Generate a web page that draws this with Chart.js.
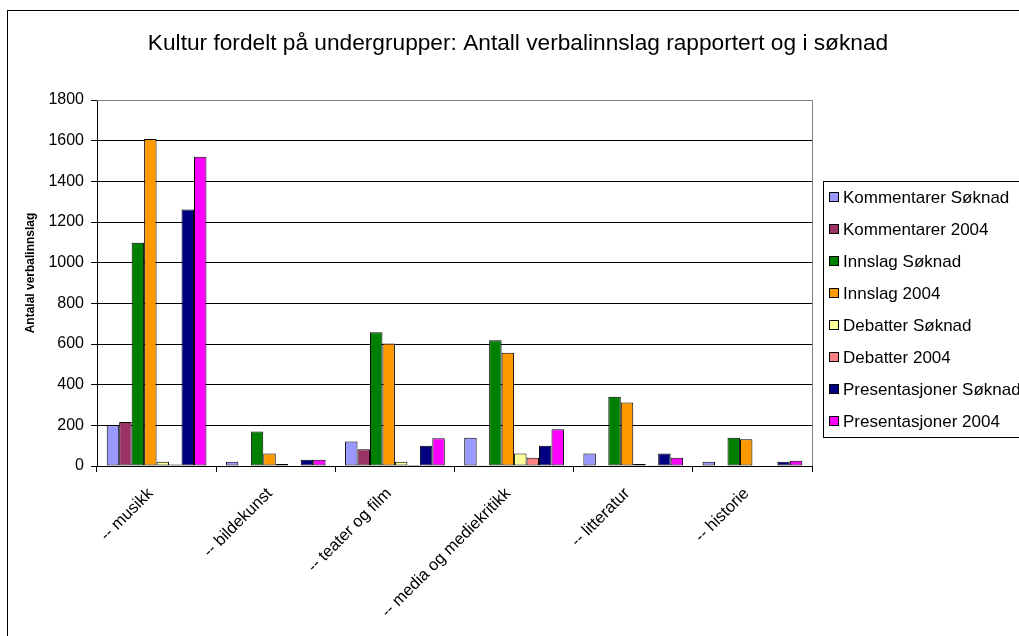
<!DOCTYPE html>
<html>
<head>
<meta charset="utf-8">
<script src="https://cdn.jsdelivr.net/npm/chart.js@4"></script>
<style>
  body { margin: 0; background: #fff; }
  canvas { display: block; }
</style>
</head>
<body>
<canvas id="grafico" width="1019" height="636"></canvas>
<script>
const categorias = ['-- musikk', '-- bildekunst', '-- teater og film', '-- media og mediekritikk', '-- litteratur', '-- historie'];
const kommentarerSoknad = [200, 21, 121, 139, 61, 21];
const kommentarer2004 = [216, 0, 82, 4, 3, 3];
const innslagSoknad = [1098, 170, 658, 618, 340, 139];
const innslag2004 = [1608, 61, 603, 557, 312, 132];
const debatterSoknad = [21, 10, 21, 61, 10, 0];
const debatter2004 = [7, 0, 5, 41, 4, 3];
const presentasjonerSoknad = [1261, 31, 100, 100, 61, 21];
const presentasjoner2004 = [1521, 31, 137, 181, 41, 26];
const yTicks = [0, 200, 400, 600, 800, 1000, 1200, 1400, 1600, 1800];

const tittel = 'Kultur fordelt på undergrupper: Antall verbalinnslag rapportert og i søknad';
const yTittel = 'Antalal verbalinnslag';
const fonte = '"Liberation Sans", Arial, sans-serif';

function serie(label, data, cor) {
    return {
        label: label,
        data: data,
        backgroundColor: cor,
        borderColor: '#000',
        borderWidth: 1,
        borderSkipped: false,
        categoryPercentage: 0.837,
        barPercentage: 1
    };
}

const series = [
    serie('Kommentarer Søknad', kommentarerSoknad, '#9999FF'),
    serie('Kommentarer 2004', kommentarer2004, '#993366'),
    serie('Innslag Søknad', innslagSoknad, '#008000'),
    serie('Innslag 2004', innslag2004, '#FF9900'),
    serie('Debatter Søknad', debatterSoknad, '#FFFF99'),
    serie('Debatter 2004', debatter2004, '#FF8080'),
    serie('Presentasjoner Søknad', presentasjonerSoknad, '#000080'),
    serie('Presentasjoner 2004', presentasjoner2004, '#FF00FF')
];

// fundo, moldura, titulo e legenda desenhados a mao
const extras = {
    id: 'extras',
    beforeDraw(chart) {
        const ctx = chart.ctx;
        ctx.save();
        ctx.fillStyle = '#fff';
        ctx.fillRect(0, 0, chart.width, chart.height);
        ctx.restore();
    },
    afterDraw(chart) {
        const ctx = chart.ctx;
        const area = chart.chartArea;
        ctx.save();

        // moldura externa
        ctx.strokeStyle = '#000';
        ctx.lineWidth = 1;
        ctx.strokeRect(7.5, 10.5, 2000, 2000);

        // borda da area do grafico
        ctx.strokeStyle = '#808080';
        ctx.beginPath();
        ctx.moveTo(area.left, Math.round(area.top) + 0.5);
        ctx.lineTo(Math.round(area.right) + 0.5, Math.round(area.top) + 0.5);
        ctx.lineTo(Math.round(area.right) + 0.5, area.bottom);
        ctx.stroke();

        // titulo
        ctx.fillStyle = '#000';
        ctx.font = '22.7px ' + fonte;
        ctx.textAlign = 'center';
        ctx.textBaseline = 'middle';
        ctx.fillText(tittel, 518, 44);

        // titulo do eixo y
        ctx.save();
        ctx.translate(31, 273);
        ctx.rotate(-Math.PI / 2);
        ctx.font = 'bold 12px ' + fonte;
        ctx.fillText(yTittel, 0, 0);
        ctx.restore();

        // legenda
        ctx.strokeStyle = '#000';
        ctx.strokeRect(823.5, 181.5, 300, 256);
        ctx.font = '17px ' + fonte;
        ctx.textAlign = 'left';
        series.forEach((s, i) => {
            const y = 197 + i * 32;
            ctx.fillStyle = s.backgroundColor;
            ctx.fillRect(829.5, y - 4.5, 9, 9);
            ctx.strokeRect(829.5, y - 4.5, 9, 9);
            ctx.fillStyle = '#000';
            ctx.fillText(s.label, 843, y + 1);
        });
        ctx.restore();
    }
};

const grafico = new Chart(document.getElementById('grafico').getContext('2d'), {
    type: 'bar',
    data: {
        labels: categorias,
        datasets: series
    },
    options: {
        responsive: false,
        animation: false,
        layout: {
            padding: { top: 100, right: 207, bottom: 0, left: 0 }
        },
        plugins: {
            legend: { display: false },
            title: { display: false },
            tooltip: { enabled: false }
        },
        scales: {
            x: {
                afterFit(scale) { scale.height = 170; },
                grid: {
                    offset: true,
                    drawOnChartArea: false,
                    drawTicks: true,
                    tickLength: 6,
                    color: '#000'
                },
                border: { color: '#000', width: 1 },
                ticks: {
                    color: '#000',
                    font: { family: fonte, size: 16.5 },
                    minRotation: 45,
                    maxRotation: 45,
                    padding: 12,
                    labelOffset: -6
                }
            },
            y: {
                min: 0,
                max: 1800,
                afterFit(scale) { scale.width = 97; },
                afterBuildTicks(scale) {
                    scale.ticks = yTicks.map(v => ({ value: v }));
                },
                grid: {
                    color: '#000',
                    drawTicks: true,
                    tickLength: 6
                },
                border: { color: '#000', width: 1 },
                ticks: {
                    color: '#000',
                    font: { family: fonte, size: 16 },
                    padding: 7,
                    callback: v => String(v)
                }
            }
        }
    },
    plugins: [extras]
});
</script>
</body>
</html>
